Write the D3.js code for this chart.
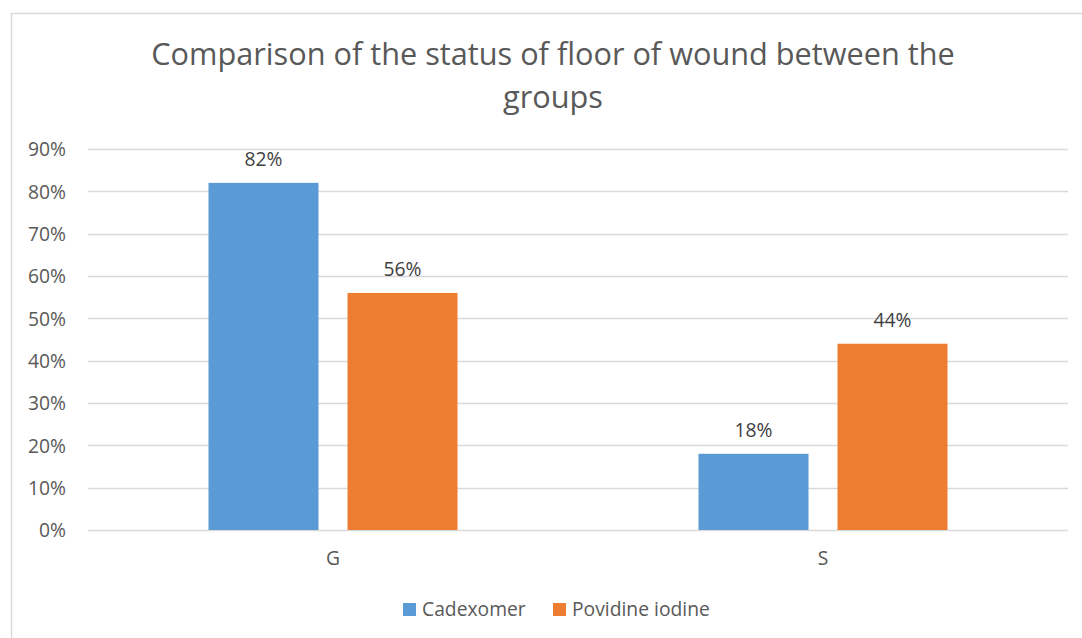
<!DOCTYPE html>
<html>
<head>
<meta charset="utf-8">
<script src="https://cdn.jsdelivr.net/npm/d3@7"></script>
<style>
  html, body { margin: 0; padding: 0; background: #ffffff; }
  svg { display: block; }
  text { font-family: "Open Sans", "Noto Sans", sans-serif; }
</style>
</head>
<body>
<svg id="chart" width="1082" height="638"></svg>
<script>
// Wound floor status by treatment group
const categories = ["G", "S"];
const seriesNames = ["Cadexomer", "Povidine iodine"];
const cadexomer = [0.82, 0.18];
const povidine = [0.56, 0.44];
const yTicks = [0, 0.1, 0.2, 0.3, 0.4, 0.5, 0.6, 0.7, 0.8, 0.9];
const titleLines = ["Comparison of the status of floor of wound between the", "groups"];
const colors = ["#5b9bd5", "#ed7d31"];

const seriesValues = [cadexomer, povidine];

const svg = d3.select("#chart");
const W = 1082, H = 638;
const labelSize = "19.3px";

// chart frame (runs off the right and bottom edges)
svg.append("rect")
  .attr("x", 11.5).attr("y", 13.5)
  .attr("width", W + 10).attr("height", H + 10)
  .attr("fill", "#ffffff")
  .attr("stroke", "#d9d9d9").attr("stroke-width", 1.5);

const plot = { left: 88, right: 1068, top: 149, bottom: 530 };

const y = d3.scaleLinear().domain([0, 0.9]).range([plot.bottom, plot.top]);
const x0 = d3.scaleBand().domain(categories).range([plot.left, plot.right]).padding(0);
const outer = 120.5;
const x1 = d3.scaleBand().domain(seriesNames)
  .range([outer, x0.bandwidth() - outer])
  .paddingInner(29 / 139).paddingOuter(0);

// gridlines
svg.append("g")
  .selectAll("line")
  .data(yTicks)
  .join("line")
  .attr("x1", plot.left).attr("x2", plot.right)
  .attr("y1", d => Math.round(y(d)) + 0.5).attr("y2", d => Math.round(y(d)) + 0.5)
  .attr("stroke", "#d9d9d9").attr("stroke-width", 1.5);

// y axis labels
const yAxis = d3.axisLeft(y).tickValues(yTicks).tickFormat(d3.format(".0%")).tickSize(0).tickPadding(0);
const yg = svg.append("g").attr("transform", `translate(${plot.left - 22},0)`).call(yAxis);
yg.select(".domain").remove();
yg.selectAll("text")
  .attr("fill", "#595959")
  .style("font-size", labelSize)
  .attr("dy", "0.35em");

// x axis labels
const xAxis = d3.axisBottom(x0).tickSize(0).tickPadding(0);
const xg = svg.append("g").attr("transform", `translate(0,${plot.bottom})`).call(xAxis);
xg.select(".domain").remove();
xg.selectAll("text")
  .attr("fill", "#595959")
  .style("font-size", labelSize)
  .attr("y", 35)
  .attr("dy", 0);

// bars
const groups = svg.append("g")
  .selectAll("g")
  .data(categories)
  .join("g")
  .attr("transform", d => `translate(${x0(d)},0)`);

const cells = (c, i) => seriesNames.map((s, j) => ({ series: s, idx: j, value: seriesValues[j][i] }));

groups.selectAll("rect")
  .data((c, i) => cells(c, i))
  .join("rect")
  .attr("x", d => x1(d.series))
  .attr("width", x1.bandwidth())
  .attr("y", d => y(d.value))
  .attr("height", d => plot.bottom - y(d.value))
  .attr("fill", d => colors[d.idx]);

// value labels
groups.selectAll("text.val")
  .data((c, i) => cells(c, i))
  .join("text")
  .attr("class", "val")
  .attr("x", d => x1(d.series) + x1.bandwidth() / 2)
  .attr("y", d => y(d.value) - 17)
  .attr("text-anchor", "middle")
  .attr("fill", "#404040")
  .style("font-size", labelSize)
  .text(d => d3.format(".0%")(d.value));

// title
const title = svg.append("g");
title.selectAll("text")
  .data(titleLines)
  .join("text")
  .attr("x", 553)
  .attr("y", (d, i) => 65 + i * 43)
  .attr("text-anchor", "middle")
  .attr("fill", "#595959")
  .style("font-size", "30.7px")
  .text(d => d);

// legend
const legendX = [403, 553];
const legend = svg.append("g")
  .selectAll("g")
  .data(seriesNames)
  .join("g")
  .attr("transform", (d, i) => `translate(${legendX[i]},603)`);
legend.append("rect").attr("width", 13).attr("height", 13).attr("fill", (d, i) => colors[i]);
legend.append("text")
  .attr("x", 19).attr("y", 13)
  .attr("fill", "#595959")
  .style("font-size", labelSize)
  .text(d => d);
</script>
</body>
</html>
